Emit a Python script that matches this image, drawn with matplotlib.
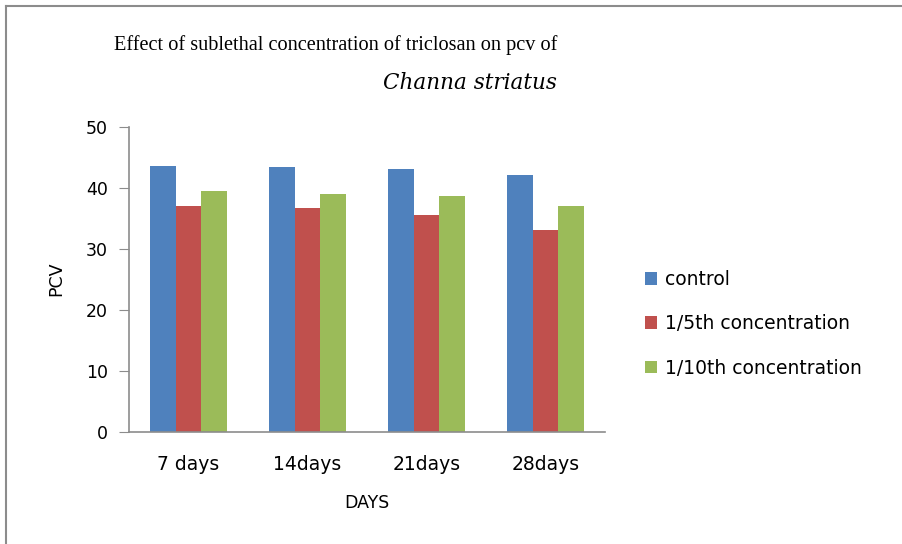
import matplotlib
matplotlib.use("Agg")
import matplotlib.pyplot as plt
import numpy as np
from matplotlib.lines import Line2D

categories = ["7 days", "14days", "21days", "28days"]
series_names = ["control", "1/5th concentration", "1/10th concentration"]
control = [43.6, 43.4, 43.0, 42.0]
fifth = [37.0, 36.7, 35.5, 33.1]
tenth = [39.5, 38.9, 38.6, 37.0]
colors = ["#4F81BD", "#C0504D", "#9BBB59"]

SANS = "DejaVu Sans"
fs = 12.5

fig = plt.figure(figsize=(9.03, 5.44), dpi=100)
ax = fig.add_axes([129/903, 1-431.7/544, (605-129)/903, (431.7-126.7)/544])

x = np.arange(len(categories))
w = 0.218
for i, (vals, name) in enumerate(zip([control, fifth, tenth], series_names)):
    ax.bar(x + (i-1)*w, vals, width=w, color=colors[i], label=name, zorder=2)

ax.set_xlim(-0.5, len(categories)-0.5)
ax.set_ylim(0, 50)
ax.set_yticks([0, 10, 20, 30, 40, 50])
ax.set_xticks(x)
ax.set_xticklabels(categories)
for s in ["top", "right"]:
    ax.spines[s].set_visible(False)
for s in ["left", "bottom"]:
    ax.spines[s].set_color("#8c8c8c")
    ax.spines[s].set_linewidth(1.2)
ax.tick_params(axis="y", length=7, color="#8c8c8c", labelsize=fs, pad=8)
ax.tick_params(axis="x", length=0, labelsize=13.5, pad=17)
for lab in ax.get_xticklabels() + ax.get_yticklabels():
    lab.set_family(SANS)
ax.set_ylabel("PCV", fontsize=fs, family=SANS, labelpad=15)
ax.set_xlabel("DAYS", fontsize=fs, family=SANS, labelpad=14)

fig.text(557/903, 1-45/544, "Effect of sublethal concentration of triclosan on pcv of",
         ha="right", va="center", fontsize=14.6, family="Liberation Serif")
fig.text(557/903, 1-83/544, "Channa striatus", ha="right", va="center",
         fontsize=15.5, family="DejaVu Serif", style="italic")

leg = fig.legend(loc="upper left", bbox_to_anchor=(628/903, 1-253/544), frameon=False,
                 prop={"family": SANS, "size": 13.5}, handlelength=0.65, handleheight=0.65,
                 handletextpad=0.4, labelspacing=1.35)

fig.add_artist(Line2D([6/903, 6/903], [0, 1-6/544], color="#8c8c8c", lw=1.5, transform=fig.transFigure))
fig.add_artist(Line2D([6/903, 1], [1-6/544, 1-6/544], color="#8c8c8c", lw=1.5, transform=fig.transFigure))

fig.savefig("out.png", dpi=100)
